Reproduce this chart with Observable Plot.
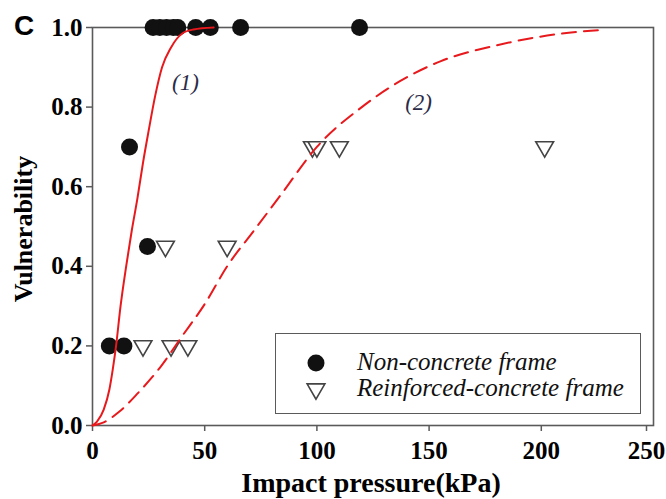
<!DOCTYPE html>
<html>
<head>
<meta charset="utf-8">
<script src="https://cdn.jsdelivr.net/npm/d3@7"></script>
<script src="https://cdn.jsdelivr.net/npm/@observablehq/plot@0.6"></script>
<style>
  body { margin: 0; background: #fff; }
  #wrap { position: relative; width: 666px; height: 499px; background: #fff; font-family: "Liberation Serif", serif; }
  #wrap > svg { position: absolute; left: 0; top: 0; }
  .abs { position: absolute; white-space: nowrap; font-family: "Liberation Serif", serif; }
</style>
</head>
<body>
<div id="wrap"></div>
<script>
// ---- data ----
const xTicks = [0, 50, 100, 150, 200];
const xTickLast = [250];
const yTicks = [0, 0.2, 0.4, 0.6, 0.8, 1.0];

// Non-concrete frame (filled circles)
const ncX = [7.5, 14, 16.5, 24.5, 27, 30, 33, 36, 38, 46, 52.5, 66, 119];
const ncY = [0.2, 0.2, 0.7, 0.45, 1.0, 1.0, 1.0, 1.0, 1.0, 1.0, 1.0, 1.0, 1.0];

// Reinforced-concrete frame (open down-triangles)
const rcX = [22.5, 35, 42.5, 32.5, 60, 98, 100, 110, 201.5];
const rcY = [0.2, 0.2, 0.2, 0.45, 0.45, 0.7, 0.7, 0.7, 0.7];

// Curve (1), solid
const c1X = [0, 2, 5, 7.5, 9, 10.5, 12.5, 15, 17.5, 20, 22.5, 25, 28, 31, 35, 40, 45, 54];
const c1Y = [0, 0.01, 0.04, 0.09, 0.14, 0.2, 0.3, 0.4, 0.49, 0.57, 0.66, 0.74, 0.83, 0.9, 0.95, 0.985, 0.995, 1.0];

// Curve (2), dashed
const c2X = [0, 5, 12, 20, 30, 40, 50, 60, 72, 84, 100, 120, 137, 155, 180, 208, 227];
const c2Y = [0, 0.008, 0.035, 0.08, 0.145, 0.225, 0.305, 0.40, 0.49, 0.58, 0.70, 0.80, 0.865, 0.915, 0.955, 0.984, 0.994];

// Curve labels
const labelText = ["(1)", "(2)"];
const labelX = [41.4, 145.3];
const labelY = [0.862, 0.81];

const legendLabels = ["Non-concrete frame", "Reinforced-concrete frame"];
const xTitle = "Impact pressure(kPa)";
const yTitle = "Vulnerability";
const panelTag = "C";

// ---- build tables ----
const nc = ncX.map((x, i) => ({x, y: ncY[i]}));
const rc = rcX.map((x, i) => ({x, y: rcY[i]}));
const c1 = c1X.map((x, i) => ({x, y: c1Y[i]}));
const c2 = c2X.map((x, i) => ({x, y: c2Y[i]}));
const labels = labelText.map((t, i) => ({t, x: labelX[i], y: labelY[i]}));

const RED = "#e8191c";
const FRAME = "#5a5a5a";
const SERIF = "Liberation Serif";

const axisText = {fontFamily: SERIF, fontWeight: "bold", fontSize: 25, fill: "#000"};

const chart = Plot.plot({
  width: 666,
  height: 499,
  marginLeft: 92,
  marginRight: 13,
  marginTop: 27,
  marginBottom: 74,
  style: {"font-family": SERIF, "font-size": "25px", "font-weight": "bold", "color": "#000", "background": "#fff", "overflow": "visible"},
  x: {domain: [0, 250]},
  y: {domain: [0, 1]},
  marks: [
    Plot.frame({stroke: FRAME, strokeWidth: 1.6}),
    Plot.axisX({ticks: xTicks, tickSize: 6, tickPadding: 10, tickFormat: d => String(d), label: null, stroke: FRAME, strokeWidth: 1.5, ...axisText}),
    Plot.axisX({ticks: xTickLast, tickSize: 6, tickPadding: 10, tickFormat: d => String(d), label: null, stroke: FRAME, strokeWidth: 1.5, dx: -7, ...axisText}),
    Plot.axisY({ticks: yTicks, tickSize: 6, tickPadding: 4, tickFormat: d3.format(".1f"), label: null, stroke: FRAME, strokeWidth: 1.5, ...axisText}),
    Plot.dot(nc, {x: "x", y: "y", r: 8.5, fill: "#111", stroke: "none"}),
    Plot.dot(rc, {x: "x", y: "y", symbol: "triangle", r: 6.6, rotate: 180, fill: "white", stroke: "#444", strokeWidth: 1.6}),
    Plot.line(c1, {x: "x", y: "y", stroke: RED, strokeWidth: 2, curve: "monotone-x"}),
    Plot.line(c2, {x: "x", y: "y", stroke: RED, strokeWidth: 2, strokeDasharray: "14,8", curve: "monotone-x"}),
    Plot.text(labels, {x: "x", y: "y", text: "t", fontStyle: "italic", fontWeight: "normal", fontSize: 23, fill: "#2b2b48", fontFamily: SERIF})
  ]
});
chart.style.setProperty("font-family", SERIF);
chart.style.setProperty("font-weight", "bold");
chart.style.setProperty("font-size", "25px");

const wrap = document.getElementById("wrap");
wrap.appendChild(chart);

// Axis titles and panel tag
const xt = document.createElement("div");
xt.className = "abs";
xt.textContent = xTitle;
Object.assign(xt.style, {left: "371px", top: "468px", transform: "translateX(-50%)", fontSize: "28px", fontWeight: "bold", lineHeight: "30px"});
wrap.appendChild(xt);

const yt = document.createElement("div");
yt.className = "abs";
yt.textContent = yTitle;
Object.assign(yt.style, {left: "23px", top: "229px", transform: "translate(-50%, -50%) rotate(-90deg)", fontSize: "26px", fontWeight: "bold", lineHeight: "27px"});
wrap.appendChild(yt);

const tag = document.createElement("div");
tag.className = "abs";
tag.textContent = panelTag;
Object.assign(tag.style, {left: "14px", top: "11px", fontFamily: "Liberation Sans, sans-serif", fontSize: "28px", fontWeight: "bold", lineHeight: "30px"});
wrap.appendChild(tag);

// Legend box
const lg = document.createElement("div");
lg.className = "abs";
Object.assign(lg.style, {left: "275px", top: "333px", width: "364px", height: "79px", border: "1.6px solid " + FRAME, background: "#fff"});
const ns = "http://www.w3.org/2000/svg";
legendLabels.forEach((lab, i) => {
  const cy = i === 0 ? 29 : 55;
  const s = document.createElementNS(ns, "svg");
  s.setAttribute("width", "24"); s.setAttribute("height", "24");
  s.style.position = "absolute"; s.style.left = (40 - 12) + "px"; s.style.top = (cy - 12) + "px";
  if (i === 0) {
    const c = document.createElementNS(ns, "circle");
    c.setAttribute("cx", 12); c.setAttribute("cy", 12); c.setAttribute("r", 8.5); c.setAttribute("fill", "#111");
    s.appendChild(c);
  } else {
    const sym = d3.symbol(d3.symbolTriangle, Math.PI * 6.6 * 6.6)();
    const p = document.createElementNS(ns, "path");
    p.setAttribute("d", sym); p.setAttribute("transform", "translate(12,12) rotate(180)");
    p.setAttribute("fill", "white"); p.setAttribute("stroke", "#444"); p.setAttribute("stroke-width", 1.6);
    s.appendChild(p);
  }
  lg.appendChild(s);
  const t = document.createElement("div");
  t.className = "abs";
  t.textContent = lab;
  Object.assign(t.style, {left: "81px", top: (cy - 15) + "px", fontFamily: SERIF, fontSize: "25px", fontStyle: "italic", fontWeight: "normal", lineHeight: "28px", color: "#111"});
  lg.appendChild(t);
});
wrap.appendChild(lg);
</script>
</body>
</html>
